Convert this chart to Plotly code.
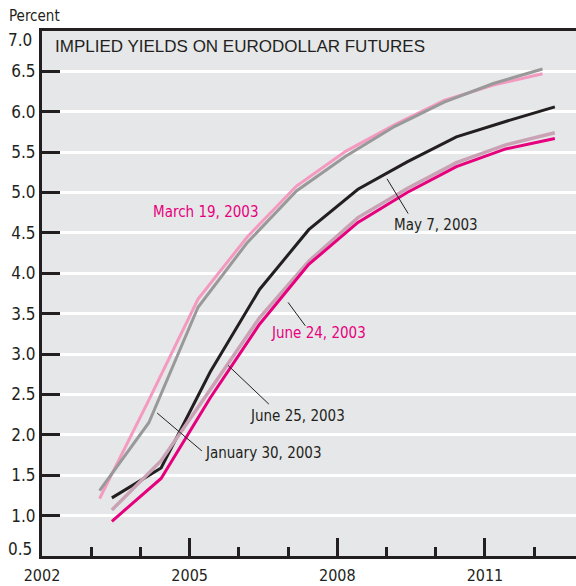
import plotly.graph_objects as go

# contract dates (years) and implied yields (percent)
x_early = [2003.17, 2004.17, 2005.17, 2006.17, 2007.17, 2008.17, 2009.17, 2010.17, 2011.17, 2012.17]
x_late = [2003.42, 2004.42, 2005.42, 2006.42, 2007.42, 2008.42, 2009.42, 2010.42, 2011.42, 2012.42]

jan30 = [1.31, 2.15, 3.58, 4.38, 5.02, 5.45, 5.82, 6.12, 6.35, 6.53]
mar19 = [1.21, 2.43, 3.68, 4.45, 5.08, 5.51, 5.84, 6.14, 6.33, 6.47]
may7 = [1.22, 1.59, 2.78, 3.80, 4.54, 5.04, 5.38, 5.69, 5.88, 6.06]
jun24 = [0.93, 1.46, 2.46, 3.37, 4.11, 4.63, 5.00, 5.32, 5.54, 5.67]
jun25 = [1.07, 1.68, 2.56, 3.45, 4.15, 4.69, 5.05, 5.37, 5.59, 5.74]

y_ticks = [1.0, 1.5, 2.0, 2.5, 3.0, 3.5, 4.0, 4.5, 5.0, 5.5, 6.0, 6.5]
x_ticks = [2002, 2005, 2008, 2011]

DARK = "#231F20"
MAGENTA = "#E6007E"
NARROW = "Liberation Sans Narrow, DejaVu Sans Condensed, Arial Narrow, sans-serif"

W, H = 576, 586
pl, pr, pt, pb = 42, 576, 31, 556  # plot area in pixels


def px2paper(px, py):
    return (px - pl) / (pr - pl), (pb - py) / (pb - pt)


fig = go.Figure()
# draw order: lighter lines below
fig.add_trace(go.Scatter(x=x_early, y=mar19, mode="lines", line=dict(color="#F49AC1", width=3)))
fig.add_trace(go.Scatter(x=x_early, y=jan30, mode="lines", line=dict(color="#999999", width=3)))
fig.add_trace(go.Scatter(x=x_late, y=may7, mode="lines", line=dict(color=DARK, width=3)))
fig.add_trace(go.Scatter(x=x_late, y=jun25, mode="lines", line=dict(color="#C9A3B5", width=3.5)))
fig.add_trace(go.Scatter(x=x_late, y=jun24, mode="lines", line=dict(color=MAGENTA, width=3)))

# leader lines
leaders = [
    (2004.34, 2.27, 2005.25, 1.80),
    (2005.78, 2.86, 2006.61, 2.38),
    (2007.00, 3.64, 2007.35, 3.35),
    (2009.01, 5.17, 2009.44, 4.74),
]
for x0, y0, x1, y1 in leaders:
    fig.add_shape(type="line", x0=x0, y0=y0, x1=x1, y1=y1, xref="x", yref="y",
                  line=dict(color=DARK, width=1))

labels = [
    ("March 19, 2003", 205, 212, MAGENTA),
    ("May 7, 2003", 436, 225, DARK),
    ("June 24, 2003", 318, 333, MAGENTA),
    ("June 25, 2003", 297, 416, DARK),
    ("January 30, 2003", 263, 453, DARK),
]
for txt, px, py, col in labels:
    ax, ay = px2paper(px, py)
    fig.add_annotation(text=txt, x=ax, y=ay, xref="paper", yref="paper",
                       showarrow=False, font=dict(family=NARROW, size=15, color=col),
                       xanchor="center", yanchor="middle")

extra = [
    ("IMPLIED YIELDS ON EURODOLLAR FUTURES", 53, 47, "left", "Liberation Sans, Arial, sans-serif", 17),
    ("Percent", 7, 16, "left", NARROW, 15),
    ("7.0", 34, 40, "right", NARROW, 17),
    ("0.5", 34, 549, "right", NARROW, 17),
]
for txt, px, py, anchor, fam, size in extra:
    ax, ay = px2paper(px, py)
    fig.add_annotation(text=txt, x=ax, y=ay, xref="paper", yref="paper",
                       showarrow=False, xanchor=anchor, yanchor="middle",
                       font=dict(family=fam, size=size, color=DARK))

fig.update_layout(
    width=W, height=H,
    margin=dict(l=pl, r=W - pr, t=pt, b=H - pb, autoexpand=False),
    plot_bgcolor="#E6E7E8",
    paper_bgcolor="white",
    showlegend=False,
    hovermode=False,
    font=dict(family=NARROW, size=16, color=DARK),
)

fig.update_xaxes(
    range=[2002, 2012.85], showgrid=False, zeroline=False, automargin=False,
    showline=True, linecolor=DARK, linewidth=3, mirror=True,
    tickvals=x_ticks, ticktext=[str(v) for v in x_ticks],
    ticks="inside", ticklen=18, tickwidth=3, tickcolor=DARK,
    tickfont=dict(family=NARROW, size=16, color=DARK), ticklabelstandoff=3,
    minor=dict(dtick=1, tick0=2002, ticks="inside", ticklen=9, tickwidth=3, tickcolor=DARK, showgrid=False),
)
fig.update_yaxes(
    range=[0.5, 7.0], zeroline=False, automargin=False,
    showline=True, linecolor=DARK, linewidth=3,
    tickvals=y_ticks, ticktext=["%.1f" % v for v in y_ticks],
    showgrid=True, gridcolor="white", gridwidth=3,
    ticks="inside", ticklen=18, tickwidth=3, tickcolor=DARK,
    tickfont=dict(family=NARROW, size=17, color=DARK),
)

# page body has an 8px default margin; drop it so the figure sits at the corner
fig.write_html("out.html", config={"displayModeBar": False},
               post_script="document.body.style.margin='0';")
